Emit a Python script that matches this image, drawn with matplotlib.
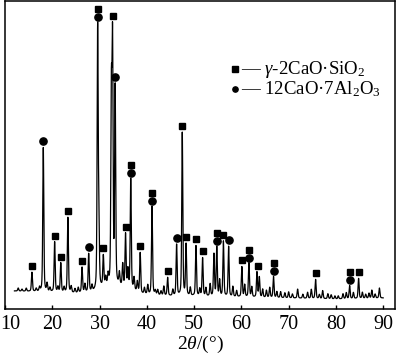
import numpy as np
import matplotlib.pyplot as plt
from matplotlib.transforms import ScaledTranslation

plt.rcParams['font.family'] = ['Liberation Serif', 'DejaVu Serif']
plt.rcParams['mathtext.fontset'] = 'custom'
plt.rcParams['mathtext.rm'] = 'Liberation Serif'
plt.rcParams['mathtext.it'] = 'Liberation Serif:italic'

# background level (2theta, intensity)
bg_pos = [12, 20, 25, 29, 31, 34, 37, 39, 45, 50, 60, 70, 80, 90]
bg_val = [18, 17, 16, 17, 22, 23, 19, 15, 13, 13, 12, 11, 10, 11]

# peak positions and heights above background
peak_pos = [12.8, 13.6, 14.5, 15.7, 16.6, 17.3, 18.1, 18.9, 19.5, 20.5,
            21.2, 21.8, 22.5, 23.3, 24.0, 24.8, 25.5, 26.3, 26.9, 27.7,
            28.4, 29.6, 29.85, 30.8, 31.3, 31.8, 32.5, 32.75, 33.3, 34.2,
            34.9, 35.5, 36.0, 36.6, 37.3, 38.0, 38.6, 39.5, 40.2, 41.1,
            41.8, 42.3, 43.0, 43.6, 44.4, 45.5, 46.3, 47.5, 48.3, 49.2,
            50.4, 51.2, 51.8, 52.5, 53.4, 54.2, 54.8, 55.4, 56.2, 57.3,
            58.2, 59.0, 60.1, 60.7, 61.6, 62.2, 63.3, 63.8, 64.5, 65.3,
            66.0, 66.8, 67.5, 68.3, 69.2, 70.0, 70.8, 71.9, 73.0, 74.0,
            74.8, 75.7, 76.5, 77.2, 78.3, 79.0, 79.8, 80.5, 81.5, 82.2,
            82.9, 83.7, 84.8, 85.6, 86.3, 87.0, 87.6, 88.3, 89.2]
peak_h = [3, 2, 3, 19, 3, 4, 144, 8, 4, 50,
          5, 29, 5, 75, 6, 4, 5, 25, 8, 38,
          6, 260, 60, 30, 8, 10, 185, 234, 196, 12,
          22, 53, 18, 110, 12, 10, 40, 6, 9, 88,
          4, 5, 4, 9, 18, 6, 51, 163, 51, 8,
          50, 7, 38, 8, 12, 42, 49, 16, 55, 50,
          10, 6, 30, 12, 34, 10, 25, 20, 8, 7,
          10, 21, 6, 6, 5, 6, 4, 9, 4, 6,
          9, 19, 4, 8, 5, 4, 3, 3, 5, 6,
          13, 6, 20, 6, 4, 5, 8, 4, 10]

square_pos = [15.7, 20.5, 21.8, 23.3, 26.3, 29.6, 30.8, 32.75, 35.5, 36.6,
              38.6, 41.1, 44.4, 47.5, 48.3, 50.4, 51.8, 54.8, 56.2, 60.1,
              61.6, 63.5, 66.8, 75.7, 82.9, 84.8]
circle_pos = [18.1, 27.7, 29.6, 33.3, 36.6, 41.1, 46.3, 54.8, 57.3, 61.6,
              66.8, 82.9]

tt = np.arange(12, 90.01, 0.02)
y = np.interp(tt, bg_pos, bg_val)
w = 0.13
for p, h in zip(peak_pos, peak_h):
    y = y + h * (0.6 * np.exp(-((tt - p) / w) ** 2 * np.log(2))
                 + 0.4 / (1 + ((tt - p) / w) ** 2))

fig = plt.figure(figsize=(4, 3.56), dpi=100)
ax = fig.add_axes([0.0125, 0.132, 0.975, 0.865])
ax.plot(tt, y, color='black', lw=0.9)


def top_at(p):
    m = (tt > p - 0.2) & (tt < p + 0.2)
    return y[m].max()


for p in square_pos:
    off = 13 if p in circle_pos else 6
    ax.plot(p, top_at(p) + off, 's', color='black', ms=5)
for p in circle_pos:
    off = 5 if p in square_pos else 6
    ax.plot(p, top_at(p) + off, 'o', color='black', ms=5.2)

# legend
ax.plot(0.59, 0.779, 's', color='black', ms=3.8, transform=ax.transAxes)
ax.plot(0.59, 0.714, 'o', color='black', ms=3.8, transform=ax.transAxes)
ax.text(0.606, 0.779, '— $\\gamma$-2CaO·SiO$_2$', transform=ax.transAxes,
        fontsize=13.5, va='center', ha='left')
ax.text(0.606, 0.714, '— 12CaO·7Al$_2$O$_3$', transform=ax.transAxes,
        fontsize=13.5, va='center', ha='left')

ax.set_xlim(10, 92.5)
ax.set_ylim(0, 308)
ax.set_xticks(range(10, 91, 10))
ax.set_yticks([])
ax.tick_params(axis='x', direction='in', length=3, width=1, labelsize=14.5, pad=4)
for s in ax.spines.values():
    s.set_linewidth(1.1)
ax.set_xlabel('2$\\theta$/(°)', fontsize=14, labelpad=0)

# nudge the first tick label so it stays inside the figure
first = ax.get_xticklabels()[0]
first.set_transform(first.get_transform() + ScaledTranslation(3.5 / 72, 0, fig.dpi_scale_trans))

fig.savefig('out.png', dpi=100)
